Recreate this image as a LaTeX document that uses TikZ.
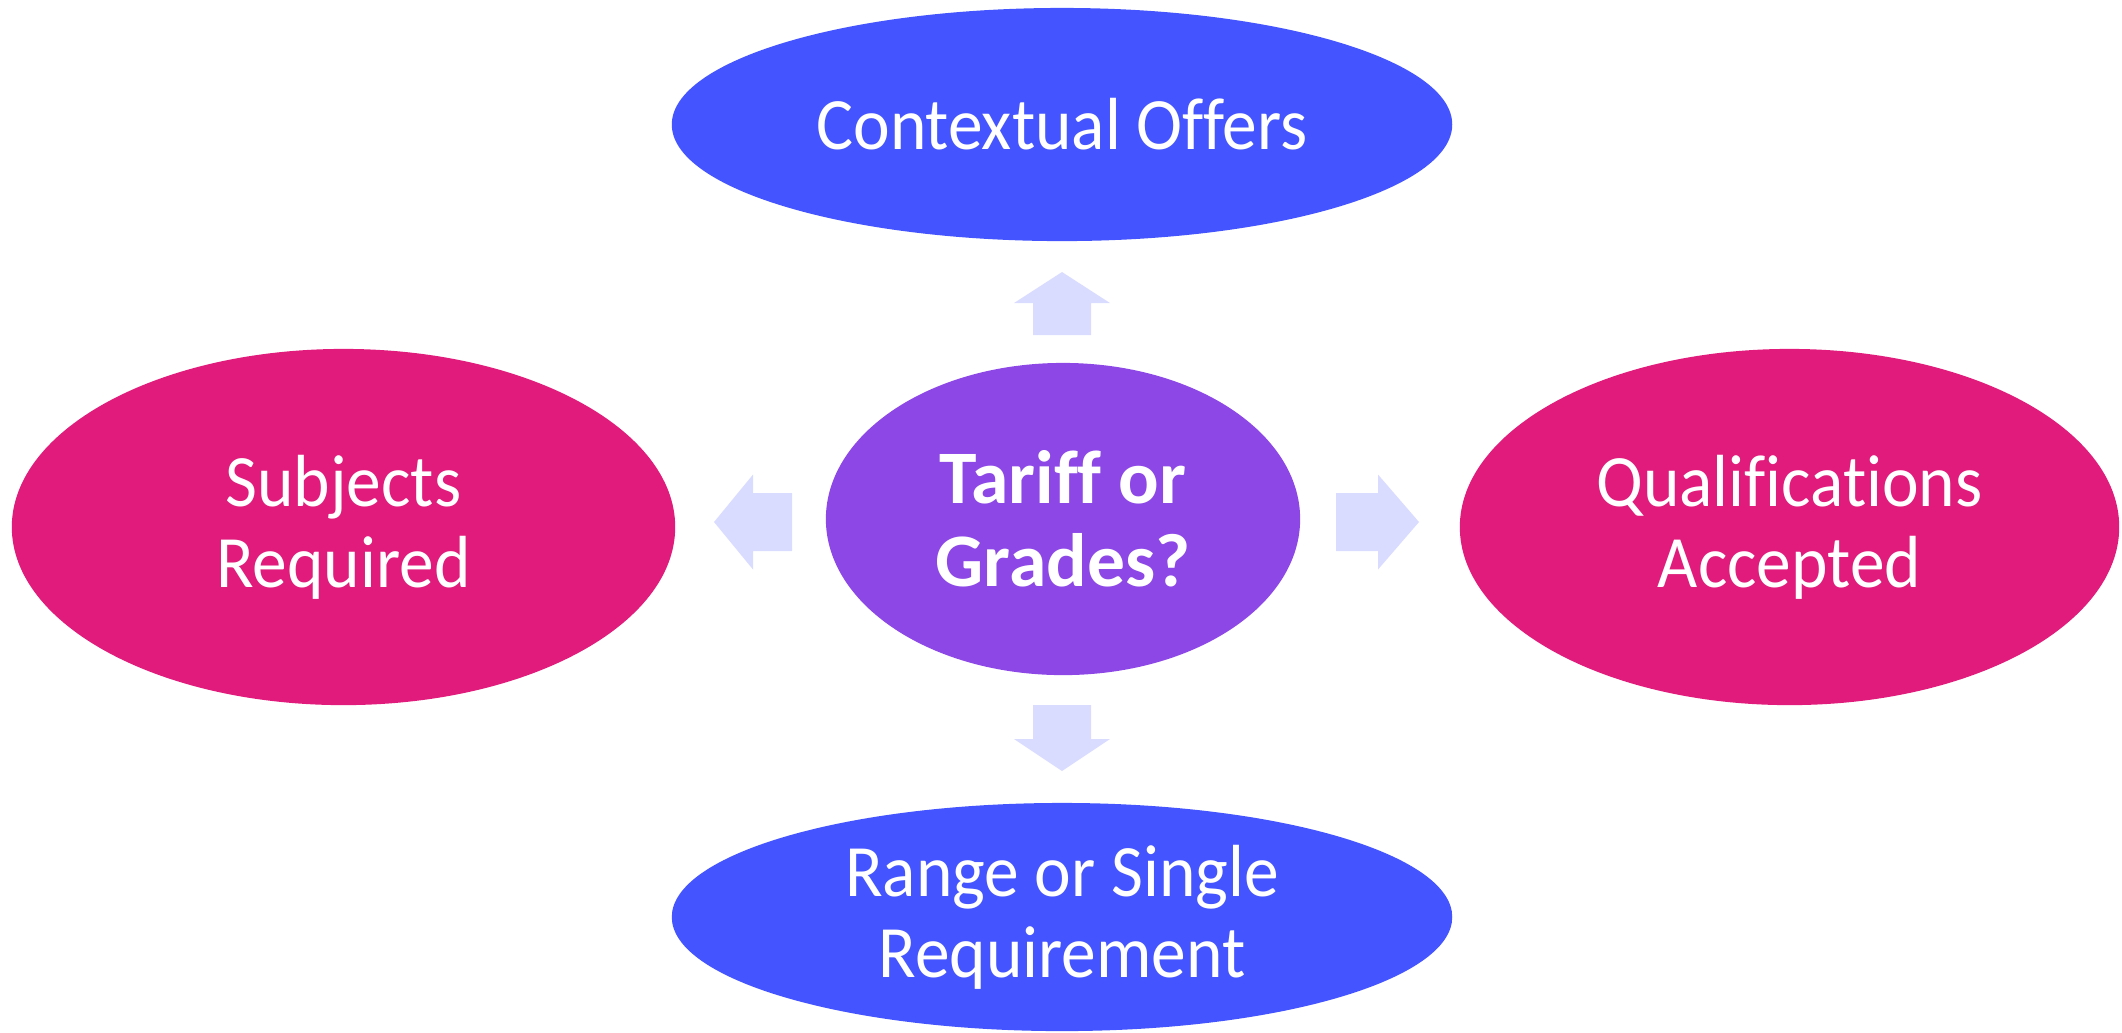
\documentclass[tikz,border=0pt]{standalone}
\usepackage{fontspec}
\setmainfont{Carlito}[Ligatures=NoCommon]
\newfontfamily\bubblefont{Carlito}[Ligatures=NoCommon, FakeStretch=0.94]
\usetikzlibrary{shapes.geometric}

\definecolor{offerblue}{RGB}{68,85,255}
\definecolor{reqpink}{RGB}{224,27,123}
\definecolor{tariffpurple}{RGB}{140,71,230}
\definecolor{arrowlilac}{RGB}{218,220,255}

\tikzset{
  bubble/.style={ellipse, inner sep=0pt, text=white, align=center,
    font=\bubblefont\fontsize{21}{23}\selectfont},
  blockarrow/.style={fill=arrowlilac}
}

\begin{document}
\begin{tikzpicture}[x=0.01cm, y=-0.01cm]
            \useasboundingbox (0,0) rectangle (2122,1032);

            % 中心
            \node[bubble, fill=tariffpurple, minimum width=4.74cm, minimum height=3.12cm,
                  font=\fontsize{21.5}{23.5}\selectfont\bfseries] (tariff) at (1063,519) {Tariff or\\Grades?};

            % 四周
            \node[bubble, fill=offerblue, minimum width=7.8cm, minimum height=2.33cm] (contextual) at (1062,124.5) {Contextual Offers};
            \node[bubble, fill=offerblue, minimum width=7.8cm, minimum height=2.28cm] (range) at (1062,917) {Range or Single\\Requirement};
            \node[bubble, fill=reqpink, minimum width=6.63cm, minimum height=3.56cm] (subjects) at (343.5,527) {Subjects\\Required};
            \node[bubble, fill=reqpink, minimum width=6.59cm, minimum height=3.56cm] (quals) at (1789.5,527) {Qualifications\\Accepted};

            % 箭头
            % 向上
            \fill[blockarrow] (1062,272) -- (1110,303) -- (1091,303) -- (1091,335)
                -- (1033,335) -- (1033,303) -- (1014,303) -- cycle;
            % 向下
            \fill[blockarrow] (1062,771) -- (1110,739) -- (1091,739) -- (1091,705)
                -- (1033,705) -- (1033,739) -- (1014,739) -- cycle;
            % 向左
            \fill[blockarrow] (714,522) -- (753,474.5) -- (753,493) -- (792,493)
                -- (792,551) -- (753,551) -- (753,569.5) -- cycle;
            % 向右
            \fill[blockarrow] (1419,522) -- (1378,474.5) -- (1378,493) -- (1336,493)
                -- (1336,551) -- (1378,551) -- (1378,569.5) -- cycle;
\end{tikzpicture}
\end{document}
